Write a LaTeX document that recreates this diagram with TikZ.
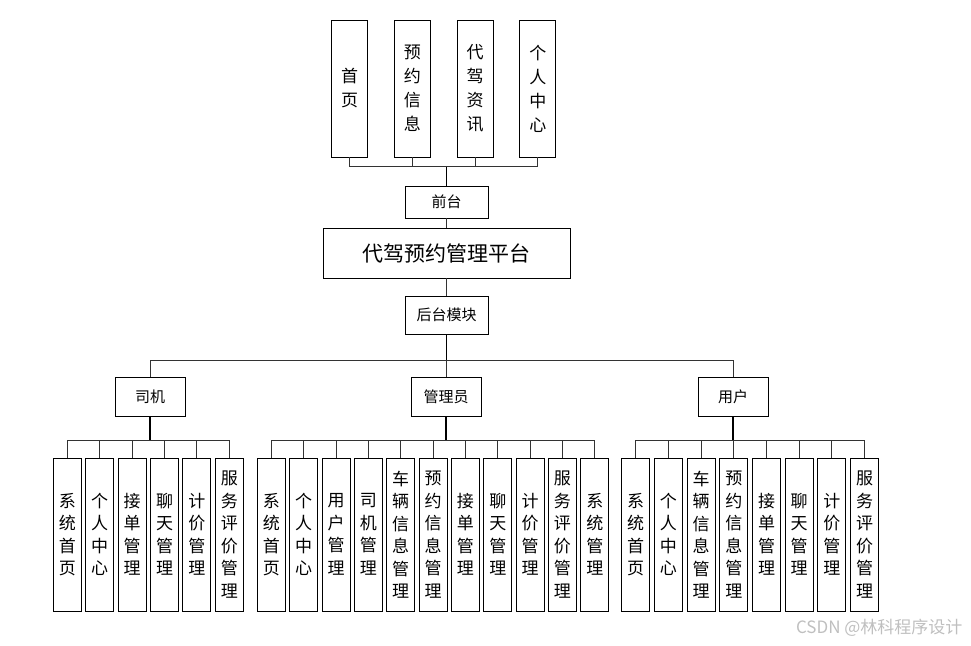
\documentclass[tikz,border=0pt]{standalone}
\usepackage{fontspec}
\setmainfont{Noto Sans CJK SC}
\usetikzlibrary{positioning}
\tikzset{
  box/.style={draw, line width=0.9pt, inner sep=0pt, align=center},
  leaf/.style={box, minimum width=28pt, minimum height=153pt, font=\fontsize{17}{22.5}\selectfont},
  topleaf/.style={box, minimum width=36pt, minimum height=137pt, font=\fontsize{17}{24}\selectfont},
  mid/.style={box, minimum width=83pt, font=\fontsize{15}{18}\selectfont},
  role/.style={box, minimum width=70pt, minimum height=39pt, font=\fontsize{15}{18}\selectfont},
  link/.style={draw=black!80, line width=0.9pt},
  stem/.style={draw=black, line width=1.6pt}
}

\begin{document}
\begin{tikzpicture}[x=1pt,y=-1pt]
  \useasboundingbox (0,0) rectangle (971,645);
  % front end
  \foreach \t [count=\i] in {{首\\页},{预\\约\\信\\息},{代\\驾\\资\\讯},{个\\人\\中\\心}}
    \node[topleaf] (t\i) at ({349.5+(\i-1)*62.8},88.5) {\t};
  \node[mid, minimum height=32pt] (front) at (446.5,202) {前台};
  \node[box, minimum width=247pt, minimum height=50pt, font=\fontsize{21}{24}\selectfont] (main) at (446.5,253) {代驾预约管理平台};
  \node[mid, minimum height=38pt] (back) at (446.5,315) {后台模块};
  \foreach \i in {1,...,4}
    \draw[link] (front.north) -- ++(0,-19) -| (t\i.south);
  \draw[stem] (front.north) -- ++(0,-19);
  \draw[link] (front.south) -- (main.north);
  \draw[link] (main.south) -- (back.north);
  % roles
  \node[role] (driver) at (150,397) {司机};
  \node[role] (admin) at (446,397) {管理员};
  \node[role] (user) at (733,397) {用户};
  \foreach \r in {driver,admin,user}
    \draw[link] (back.south) -- ++(0,26) -| (\r.north);
  \draw[stem] (back.south) -- ++(0,26);
  % driver
  \foreach \t [count=\i] in {{系\\统\\首\\页},{个\\人\\中\\心},{接\\单\\管\\理},{聊\\天\\管\\理},{计\\价\\管\\理},{服\\务\\评\\价\\管\\理}} {
    \node[leaf] (d\i) at ({67.3+(\i-1)*32.4},534.5) {\t};
    \draw[link] (driver.south) -- ++(0,23) -| (d\i.north);
  }
  % admin
  \foreach \t [count=\i] in {{系\\统\\首\\页},{个\\人\\中\\心},{用\\户\\管\\理},{司\\机\\管\\理},{车\\辆\\信\\息\\管\\理},{预\\约\\信\\息\\管\\理},{接\\单\\管\\理},{聊\\天\\管\\理},{计\\价\\管\\理},{服\\务\\评\\价\\管\\理},{系\\统\\管\\理}} {
    \node[leaf] (a\i) at ({271.3+(\i-1)*32.35},534.5) {\t};
    \draw[link] (admin.south) -- ++(0,23) -| (a\i.north);
  }
  % user
  \foreach \t [count=\i] in {{系\\统\\首\\页},{个\\人\\中\\心},{车\\辆\\信\\息\\管\\理},{预\\约\\信\\息\\管\\理},{接\\单\\管\\理},{聊\\天\\管\\理},{计\\价\\管\\理},{服\\务\\评\\价\\管\\理}} {
    \node[leaf] (u\i) at ({635.7+(\i-1)*32.7},534.5) {\t};
    \draw[link] (user.south) -- ++(0,23) -| (u\i.north);
  }
  \foreach \r in {driver,admin,user}
    \draw[stem] (\r.south) -- ++(0,23);
  \node[anchor=east, text=black!25, font=\fontsize{17}{20}\selectfont] (mark) at (966,628) {CSDN @林科程序设计};
\end{tikzpicture}
\end{document}
